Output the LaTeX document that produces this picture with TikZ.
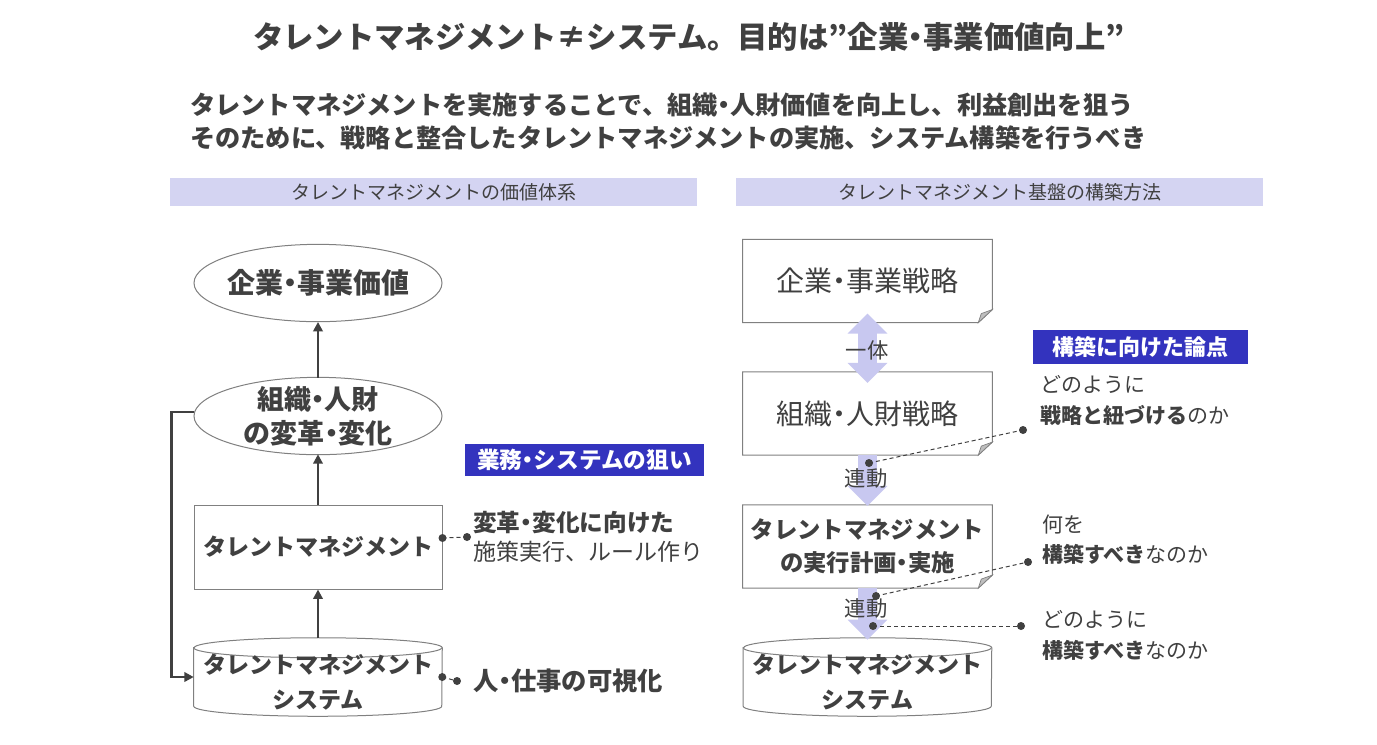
\documentclass[tikz,border=0pt]{standalone}
\usepackage{fontspec}
\setmainfont{Noto Sans CJK JP}
\usetikzlibrary{arrows.meta,shapes.geometric,backgrounds}
\definecolor{txt}{RGB}{64,64,64}
\definecolor{barc}{RGB}{212,212,242}
\definecolor{navy}{RGB}{51,51,190}
\definecolor{lavc}{RGB}{200,200,240}
\definecolor{bord}{RGB}{128,128,128}
\definecolor{foldc}{RGB}{190,190,190}
\newcommand{\fz}[2]{\fontsize{#1}{#2}\selectfont}
\newcommand{\nd}{\hbox to 0.5em{\hss ・\hss}}
\newcommand{\foldshape}[1]{%
  \draw[bordline, fill=white] (#1.north west) -- (#1.north east) -- ([yshift=9.75pt]#1.south east) -- ([xshift=-10.5pt]#1.south east) -- (#1.south west) -- cycle;
  \filldraw[draw=bord, line width=0.5pt, fill=foldc] ([yshift=9.75pt]#1.south east) -- ([xshift=-10.5pt]#1.south east) -- ([xshift=-8.25pt,yshift=6.75pt]#1.south east) -- cycle;}
\newcommand{\cylshape}[1]{%
  \draw[bordline, fill=white] ([yshift=-7.5pt]#1.north west) -- ([yshift=7.5pt]#1.south west) arc[start angle=180, end angle=360, x radius=93pt, y radius=7.5pt] -- ([yshift=-7.5pt]#1.north east) arc[start angle=0, end angle=180, x radius=93pt, y radius=7.5pt] -- cycle;
  \draw[bordline] ([yshift=-7.5pt]#1.north west) arc[start angle=180, end angle=360, x radius=93pt, y radius=7.5pt];}
\newcommand{\ovalshape}[1]{%
  \draw[bordline, fill=white] (#1.center) ellipse[x radius=93pt, y radius=29pt];}
\newcommand{\dotline}[2]{%
  \draw[conn] (#1) -- (#2);
  \fill[txt] (#1) circle[radius=3pt] (#2) circle[radius=3pt];}
\tikzset{Lav/.tip={Triangle[width=29pt,length=15pt]}}
\begin{document}
\begin{tikzpicture}[x=0.75pt,y=-0.75pt,
  base/.style={text=txt, inner sep=0pt},
  darr/.style={draw=txt, line width=2.2pt, -{Triangle[length=7pt,width=7pt]}},
  bordline/.style={draw=bord, line width=0.75pt},
  oval/.style={base, minimum width=186pt, minimum height=58pt, align=center, font=\bfseries\fz{21pt}{25.5pt}},
  boxL/.style={base, rectangle, bordline, fill=white, minimum width=186pt, minimum height=63pt, align=center},
  cylnode/.style={base, minimum width=186pt, minimum height=58.5pt},
  cyltext/.style={base, align=center, font=\bfseries\fz{17.25pt}{26.25pt}},
  foldnode/.style={base, minimum width=186.75pt, minimum height=62pt, align=center},
  tag/.style={base, fill=navy, text=white, font=\bfseries\fz{16.5pt}{20pt}},
  hbar/.style={base, fill=barc, minimum width=395.25pt, minimum height=21pt, font=\fz{14.25pt}{17pt}},
  conn/.style={draw=txt, line width=0.75pt, dash pattern=on 3pt off 2.25pt},
  lav/.style={draw=lavc, line width=14.25pt},
  lbl/.style={base, font=\fz{16pt}{18pt}},
  note/.style={base, align=left, anchor=west, font=\fz{15.75pt}{23.25pt}},
]
\begin{scope}[on background layer]
  \fill[white] (0,0) rectangle (1377,744);
\end{scope}
\useasboundingbox (0,0) rectangle (1377,744);

% title and lead text
\node[base, font=\bfseries\fz{22.75pt}{26pt}] (title) at (689,37) {タレントマネジメント≠システム。目的は”企業\nd 事業価値向上”};
\node[base, anchor=west, align=left, font=\bfseries\fz{18.9pt}{24.75pt}] (sub) at (190,121.5) {タレントマネジメントを実施することで、組織\nd 人財価値を向上し、利益創出を狙う\\そのために、戦略と整合したタレントマネジメントの実施、システム構築を行うべき};

% header bars
\node[hbar] (hL) at (433.5,192) {タレントマネジメントの価値体系};
\node[hbar] (hR) at (999.5,192) {タレントマネジメント基盤の構築方法};

% left column
\node[oval] (e1) at (318,283) {企業\nd 事業価値};
\node[oval, minimum height=57pt, font=\bfseries\fz{20.25pt}{25.5pt}] (e2) at (318,416) {組織\nd 人財\\の変革\nd 変化};
\node[boxL, font=\bfseries\fz{17.25pt}{20pt}] (r1) at (318,547) {タレントマネジメント};
\node[cylnode] (c1) at (318,677) {};
\node[cyltext] (c1t) at ([yshift=-4pt]c1.center) {タレントマネジメント\\システム};
\begin{scope}[on background layer]
  \ovalshape{e1}
  \ovalshape{e2}
  \cylshape{c1}
\end{scope}

\draw[darr] (e2.north) -- (e1.south);
\draw[darr] (r1.north) -- (e2.south);
\draw[darr] (c1.north) -- (r1.south);
\draw[darr] ([yshift=3pt]e2.west) -- ++(-22,0) |- (c1.west);

\node[tag, minimum width=179.25pt, minimum height=24pt, font=\bfseries\fz{17pt}{20pt}] (tagL) at (584.5,460) {業務\nd システムの狙い};
\node[note, font=\fz{17.25pt}{21.75pt}] (t1) at (473,537) {{\bfseries\fontsize{17.75pt}{21.75pt}\selectfont 変革\nd 変化に向けた}\\施策実行、ルール作り};
\node[note, font=\bfseries\fz{19pt}{22pt}] (t2) at (473,681) {人\nd 仕事の可視化};
\coordinate (p1a) at ([yshift=6.75pt]r1.east);
\coordinate (p1b) at ([xshift=-4.5pt]t1.west);
\coordinate (p2a) at (c1.east);
\coordinate (p2b) at ([xshift=-12pt]t2.west);
\dotline{p1a}{p1b}
\dotline{p2a}{p2b}

% right column
\node[foldnode, font=\fz{21pt}{24pt}] (s1) at (867.5,281) {企業\nd 事業戦略};
\node[foldnode, font=\fz{21pt}{24pt}] (s2) at (867.5,413.5) {組織\nd 人財戦略};
\node[foldnode, font=\bfseries\fz{17.5pt}{24.75pt}] (s3) at (867.5,546.5) {タレントマネジメント\\の実行計画\nd 実施};
\node[cylnode] (c2) at (867.5,677) {};
\node[cyltext] (c2t) at ([yshift=-4pt]c2.center) {タレントマネジメント\\システム};
\begin{scope}[on background layer]
  \foldshape{s1}
  \foldshape{s2}
  \foldshape{s3}
  \cylshape{c2}
\end{scope}

\draw[lav, Lav-Lav] ([yshift=6.75pt]s1.south) -- ([yshift=-8.25pt]s2.north);
\draw[lav, -Lav] (s2.south) -- ([yshift=-0.75pt]s3.north);
\draw[lav, -Lav] (s3.south) -- ([yshift=-1.5pt]c2.north);
\node[lbl] (l1) at (867,350) {一体};
\node[lbl] (l2) at (866,478) {連動};
\node[lbl] (l3) at (866,608) {連動};

\node[tag, minimum width=161.25pt, minimum height=25.5pt] (tagR) at (1140.5,347) {構築に向けた論点};
\node[note] (q1) at (1040,400.5) {どのように\\\textbf{戦略と紐づける}のか};
\node[note, font=\fz{15.75pt}{22.5pt}] (q2) at (1042,540) {何を\\\textbf{構築すべき}なのか};
\node[note] (q3) at (1042,635.5) {どのように\\\textbf{構築すべき}なのか};

\coordinate (d1a) at (869,463);
\coordinate (d1b) at (1023,430);
\coordinate (d2a) at (876,596);
\coordinate (d2b) at (1028,562);
\coordinate (d3a) at (873,626);
\coordinate (d3b) at (1021,626);
\dotline{d1a}{d1b}
\dotline{d2a}{d2b}
\dotline{d3a}{d3b}
\end{tikzpicture}
\end{document}
